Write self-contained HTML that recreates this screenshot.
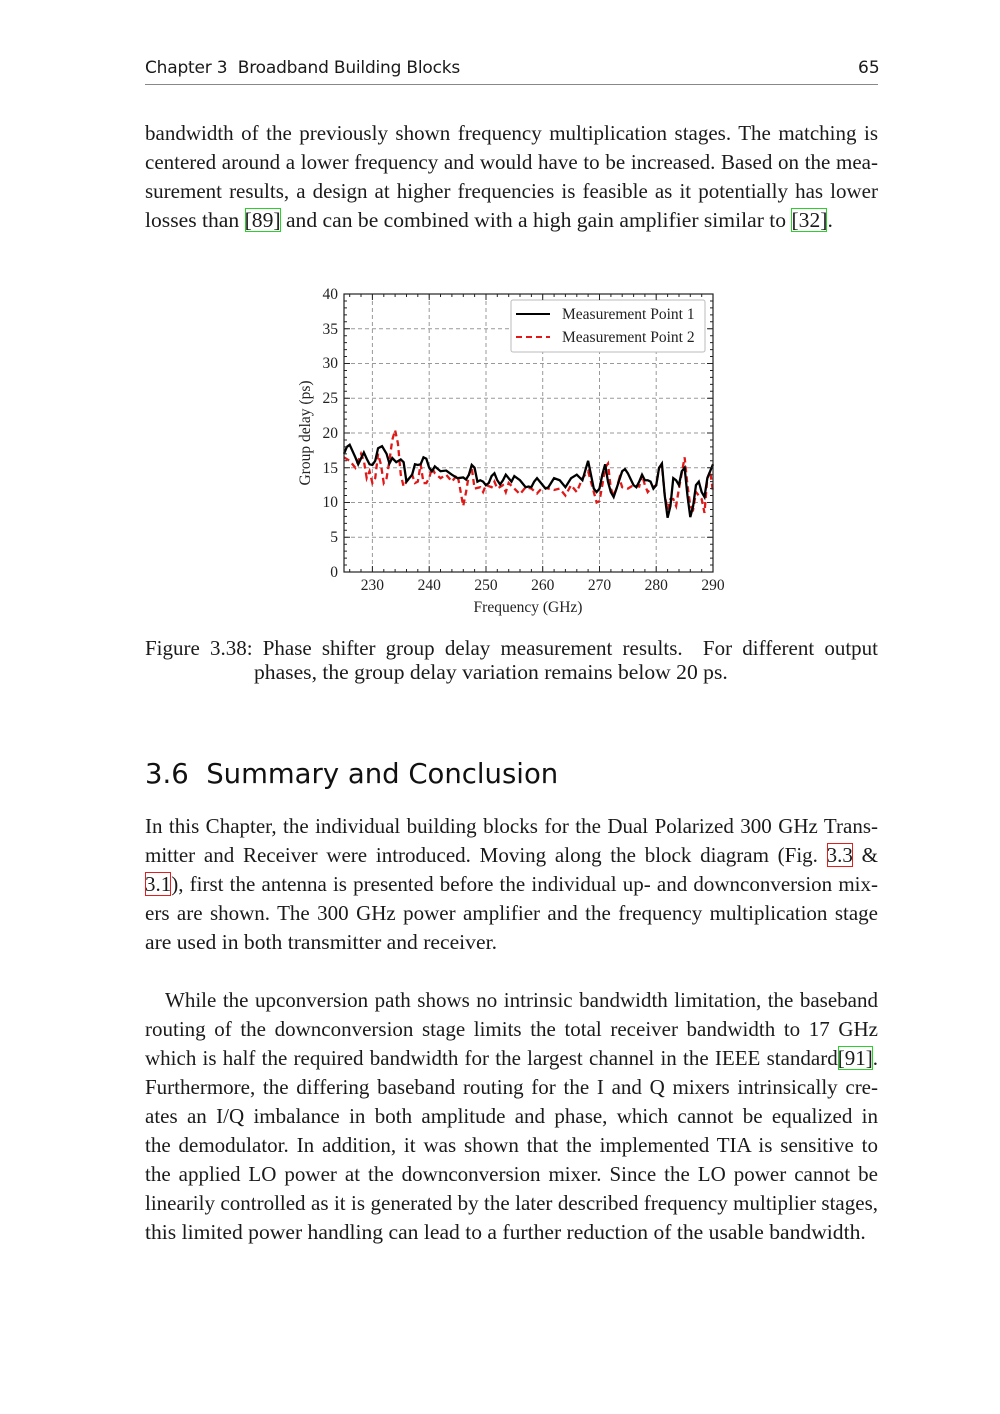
<!DOCTYPE html>
<html><head><meta charset="utf-8"><style>
body{margin:0;background:#fff;}
.pg{position:relative;width:1000px;height:1414px;background:#fff;overflow:hidden;font-family:"Liberation Serif",serif;color:#1a1a1a;}
.ln{position:absolute;left:145px;width:733px;font-size:21.6px;line-height:24px;white-space:nowrap;}
.j{text-align:justify;text-align-last:justify;font-size:21px;}
.hd{position:absolute;font-family:"DejaVu Sans","Liberation Sans",sans-serif;}
.g{outline:1.5px solid #2bd02b;outline-offset:-1px;}
.r{outline:1.5px solid #e02020;outline-offset:-1px;}
</style></head><body><div class="pg">
<div class="hd" style="left:145px;top:58px;font-size:17px;letter-spacing:-0.2px">Chapter 3&nbsp; Broadband Building Blocks</div>
<div class="hd" style="left:858px;top:58px;font-size:17px;">65</div>
<div style="position:absolute;left:145px;top:84px;width:733px;height:1px;background:#888;"></div>

<div class="ln j" style="top:121px">bandwidth of the previously shown frequency multiplication stages. The matching is</div>
<div class="ln j" style="top:150px">centered around a lower frequency and would have to be increased. Based on the mea-</div>
<div class="ln j" style="top:179px">surement results, a design at higher frequencies is feasible as it potentially has lower</div>
<div class="ln" style="top:208px">losses than <span class="g">[89]</span> and can be combined with a high gain amplifier similar to <span class="g">[32]</span>.</div>

<svg style="position:absolute;left:0;top:0" width="1000" height="640">
<g stroke="#999" stroke-width="1" stroke-dasharray="4,3">
<line x1="372.4" y1="294" x2="372.4" y2="572"/><line x1="429.2" y1="294" x2="429.2" y2="572"/><line x1="486" y1="294" x2="486" y2="572"/><line x1="542.7" y1="294" x2="542.7" y2="572"/><line x1="599.5" y1="294" x2="599.5" y2="572"/><line x1="656.2" y1="294" x2="656.2" y2="572"/>
<line x1="344" y1="537.25" x2="713" y2="537.25"/><line x1="344" y1="502.5" x2="713" y2="502.5"/><line x1="344" y1="467.75" x2="713" y2="467.75"/><line x1="344" y1="433" x2="713" y2="433"/><line x1="344" y1="398.25" x2="713" y2="398.25"/><line x1="344" y1="363.5" x2="713" y2="363.5"/><line x1="344" y1="328.75" x2="713" y2="328.75"/>
</g>
<g transform="translate(344,572) scale(5.677,-6.95) translate(-225,0)" fill="none">
<polyline vector-effect="non-scaling-stroke" stroke="#e01818" stroke-width="2.3" stroke-dasharray="6,4" points="225,16.5 226,16 227,15 228,17 228.5,16 229,13.5 229.5,14.5 230,12.8 230.5,13.5 231,17 231.5,15.5 232,12.8 232.5,13.5 233,16 233.5,19 234,20.4 234.5,18.5 235,14 235.5,12.3 236,13 237,14 237.5,12.8 238,13 238.5,15.5 239,12.8 239.5,12.8 240,13.5 240.5,15 241,14.2 242,13.5 243,14 244,13 245,14 246,9.5 246.5,11.5 247,14 247.5,15 248,12 249,12.2 249.5,11.5 250,12.5 251,12.2 251.5,13 252,12 253,12.5 253.5,11.5 254,12.8 255,12 256,11.2 257,12.2 258,12 259,11.3 260,12.2 261,12 262,11.8 263,12 264,11 265,12.5 266,11.5 267,13.5 268,14.5 269,11.5 269.5,10 270,10.2 270.5,12.5 271,15 271.5,15.6 272,12 272.5,11 273,12 273.5,13.5 274,12.2 275,12 276,12.5 277,12.3 277.5,14 278,12.5 278.5,11.5 279,12 280,12.5 280.5,15 281,15.3 281.5,11 282,9 282.5,10.5 283,10.5 283.5,9.5 284,12 285,16.5 285.5,12.5 286,9.5 286.5,9 287,11.5 287.5,11 288,10.5 288.5,8.5 289,13.5 289.5,14.5 290,11.5"/>
<polyline vector-effect="non-scaling-stroke" stroke="#000" stroke-width="2.3" points="225,17 225.5,18 226,18.3 227,16.5 227.5,15.5 228.5,17.2 229,16.3 229.5,15.5 230,15.4 230.5,16 231,17.8 231.7,18.1 232.5,17 233,15.6 233.5,16.4 234.2,15.8 235,16.2 235.5,15.8 236,13 237,14 237.5,15.5 238,15.4 238.5,15.5 239,16.5 239.5,16.3 240,15 240.5,14.5 241,15.2 242,14.5 243,14.6 244,14 245,13.5 246,13.6 246.5,13.3 247,14 247.5,15.4 248,15 248.5,13 249,13.2 249.5,13 250,12.5 250.5,12.8 251,13.8 251.5,14.2 252,13.2 252.5,12.6 253,13.2 253.5,14 254,13.5 254.5,13 255,13.8 256,13.2 257,12.2 257.5,12.3 258,12.2 258.5,13 259,13.5 260,12.5 260.5,12 261,12.2 262,13.5 263,13.2 264,12.2 265,13.5 266,14 267,13.2 268,16 268.5,14 269,12 269.5,11.5 270,12 270.5,14 271,15.5 271.5,13 272,11.5 272.5,10.8 273,12 274,14.5 274.5,14.8 275,14.2 276,12.5 276.5,12.2 277,13 277.5,14 278,13.2 278.5,13.2 279,13 279.5,12 280,12.5 280.5,15 281,15.6 281.5,11 282,7.8 282.5,9.5 283,13.5 283.5,13.2 284,12.5 284.5,14.5 285,15 285.5,11 286,7.9 286.5,9.5 287,12.5 287.5,13 288,11.5 288.5,10.8 289,13.5 289.5,14.5 290,15.5"/>
</g>
<rect x="344" y="294" width="369" height="278" fill="none" stroke="#222" stroke-width="1.2"/>
<rect x="511" y="300" width="194" height="52" fill="#fff" stroke="#bbb" stroke-width="1" rx="2"/>
<line x1="516" y1="314" x2="550" y2="314" stroke="#000" stroke-width="2"/>
<line x1="516" y1="337" x2="550" y2="337" stroke="#e01818" stroke-width="2" stroke-dasharray="6,4"/>
<g font-family="Liberation Serif,serif" font-size="15.5" fill="#222">
<text x="562" y="319">Measurement Point 1</text>
<text x="562" y="342">Measurement Point 2</text>
<g text-anchor="end">
<text x="338" y="577">0</text><text x="338" y="542">5</text><text x="338" y="507">10</text><text x="338" y="473">15</text><text x="338" y="438">20</text><text x="338" y="403">25</text><text x="338" y="368">30</text><text x="338" y="334">35</text><text x="338" y="299">40</text>
</g>
<g text-anchor="middle">
<text x="372.4" y="590">230</text><text x="429.2" y="590">240</text><text x="486" y="590">250</text><text x="542.7" y="590">260</text><text x="599.5" y="590">270</text><text x="656.2" y="590">280</text><text x="713" y="590">290</text>
<text x="528" y="612">Frequency (GHz)</text>
<text transform="translate(310,433) rotate(-90)">Group delay (ps)</text>
</g>
</g>
<g stroke="#222" stroke-width="1">
<path d="M344,572h6M344,537.25h6M344,502.5h6M344,467.75h6M344,433h6M344,398.25h6M344,363.5h6M344,328.75h6M713,537.25h-6M713,502.5h-6M713,467.75h-6M713,433h-6M713,398.25h-6M713,363.5h-6M713,328.75h-6M372.4,572v-6M429.2,572v-6M486,572v-6M542.7,572v-6M599.5,572v-6M656.2,572v-6M372.4,294v6M429.2,294v6M486,294v6M542.7,294v6M599.5,294v6M656.2,294v6"/>
<path d="M344,565.05h3M344,558.1h3M344,551.15h3M344,544.2h3M344,530.3h3M344,523.35h3M344,516.4h3M344,509.45h3M344,495.55h3M344,488.6h3M344,481.65h3M344,474.7h3M344,460.8h3M344,453.85h3M344,446.9h3M344,439.95h3M344,426.05h3M344,419.1h3M344,412.15h3M344,405.2h3M344,391.3h3M344,384.35h3M344,377.4h3M344,370.45h3M344,356.55h3M344,349.6h3M344,342.65h3M344,335.7h3M344,321.8h3M344,314.85h3M344,307.9h3M344,300.95h3M713,565.05h-3M713,558.1h-3M713,551.15h-3M713,544.2h-3M713,530.3h-3M713,523.35h-3M713,516.4h-3M713,509.45h-3M713,495.55h-3M713,488.6h-3M713,481.65h-3M713,474.7h-3M713,460.8h-3M713,453.85h-3M713,446.9h-3M713,439.95h-3M713,426.05h-3M713,419.1h-3M713,412.15h-3M713,405.2h-3M713,391.3h-3M713,384.35h-3M713,377.4h-3M713,370.45h-3M713,356.55h-3M713,349.6h-3M713,342.65h-3M713,335.7h-3M713,321.8h-3M713,314.85h-3M713,307.9h-3M713,300.95h-3"/>
<path d="M349.7,572v-3M361,572v-3M383.8,572v-3M395.1,572v-3M406.5,572v-3M417.8,572v-3M440.5,572v-3M451.9,572v-3M463.3,572v-3M474.6,572v-3M497.3,572v-3M508.7,572v-3M520,572v-3M531.4,572v-3M554.1,572v-3M565.4,572v-3M576.8,572v-3M588.1,572v-3M610.9,572v-3M622.2,572v-3M633.6,572v-3M644.9,572v-3M667.6,572v-3M679,572v-3M690.3,572v-3M701.7,572v-3M349.7,294v3M361,294v3M383.8,294v3M395.1,294v3M406.5,294v3M417.8,294v3M440.5,294v3M451.9,294v3M463.3,294v3M474.6,294v3M497.3,294v3M508.7,294v3M520,294v3M531.4,294v3M554.1,294v3M565.4,294v3M576.8,294v3M588.1,294v3M610.9,294v3M622.2,294v3M633.6,294v3M644.9,294v3M667.6,294v3M679,294v3M690.3,294v3M701.7,294v3"/>
</g>
</svg>

<div class="ln j" style="top:636px">Figure 3.38: Phase shifter group delay measurement results.&nbsp; For different output</div>
<div class="ln" style="top:660px;left:254px;width:600px">phases, the group delay variation remains below 20 ps.</div>

<div class="hd" style="left:145px;top:758px;font-size:27.5px;font-weight:500;color:#111">3.6&nbsp; Summary and Conclusion</div>

<div class="ln j" style="top:814px">In this Chapter, the individual building blocks for the Dual Polarized 300 GHz Trans-</div>
<div class="ln j" style="top:843px">mitter and Receiver were introduced. Moving along the block diagram (Fig. <span class="r">3.3</span> &amp;</div>
<div class="ln j" style="top:872px"><span class="r">3.1</span>), first the antenna is presented before the individual up- and downconversion mix-</div>
<div class="ln j" style="top:901px">ers are shown. The 300 GHz power amplifier and the frequency multiplication stage</div>
<div class="ln" style="top:930px">are used in both transmitter and receiver.</div>

<div class="ln j" style="top:988px;left:165px;width:713px">While the upconversion path shows no intrinsic bandwidth limitation, the baseband</div>
<div class="ln j" style="top:1017px">routing of the downconversion stage limits the total receiver bandwidth to 17 GHz</div>
<div class="ln j" style="top:1046px">which is half the required bandwidth for the largest channel in the IEEE standard<span class="g">[91]</span>.</div>
<div class="ln j" style="top:1075px">Furthermore, the differing baseband routing for the I and Q mixers intrinsically cre-</div>
<div class="ln j" style="top:1104px">ates an I/Q imbalance in both amplitude and phase, which cannot be equalized in</div>
<div class="ln j" style="top:1133px">the demodulator. In addition, it was shown that the implemented TIA is sensitive to</div>
<div class="ln j" style="top:1162px">the applied LO power at the downconversion mixer. Since the LO power cannot be</div>
<div class="ln j" style="top:1191px">linearily controlled as it is generated by the later described frequency multiplier stages,</div>
<div class="ln" style="top:1220px">this limited power handling can lead to a further reduction of the usable bandwidth.</div>
</div></body></html>
